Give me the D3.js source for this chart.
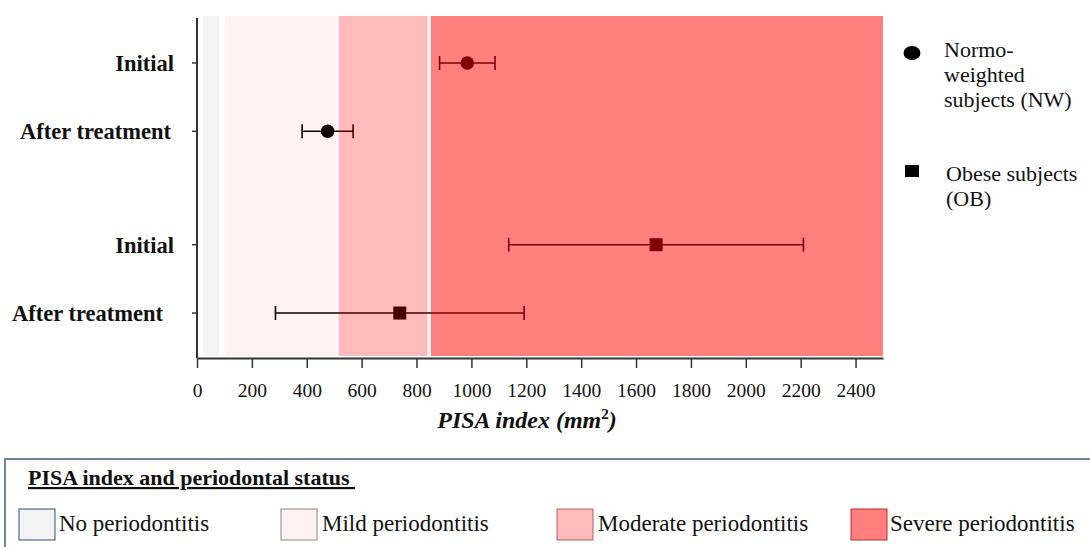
<!DOCTYPE html>
<html>
<head>
<meta charset="utf-8">
<script src="https://cdn.jsdelivr.net/npm/d3@7"></script>
<style>
  body { margin: 0; background: #fff; }
  svg { display: block; }
</style>
</head>
<body>
<svg id="chart" width="1090" height="547" font-family="'Liberation Serif', serif"></svg>
<script>
// groups and rows
const groups = ['NW', 'OB'];
const rowLabels = ['Initial', 'After treatment'];

// PISA index (mm2), mean and error half-width per group
const nwMean = [985, 476];
const nwErr = [101, 93];
const obMean = [1673, 739];
const obErr = [537, 453];

// periodontal status bands
const bandNames = ['No periodontitis', 'Mild periodontitis', 'Moderate periodontitis', 'Severe periodontitis'];
const bandLo = [21, 101, 516, 852];
const bandHi = [80, 509, 840, 2500];

const xTicks = [0, 200, 400, 600, 800, 1000, 1200, 1400, 1600, 1800, 2000, 2200, 2400];

// band tint: drawn above the marks, like the original figure
const bandFill = ['#000', '#ff0000', '#ff0000', '#ff0000'];
const bandOpacity = [0.047, 0.05, 0.265, 0.5];
const swatchStroke = ['#4f6c94', '#a59b98', '#b88888', '#b85a5a'];

const FONT = "'Liberation Serif', serif";
const svg = d3.select('#chart');

const plotTop = 16, plotBottom = 356, axisY = 358;
const x = d3.scaleLinear().domain([0, 2500]).range([197, 883]);

const yGroup = d3.scaleBand().domain(groups).range([18, 358])
    .paddingInner(0.229).paddingOuter(0.05);
const yRow = d3.scalePoint().domain(rowLabels).range([0, yGroup.bandwidth()]).padding(0.525);
const yPos = (g, r) => yGroup(g) + yRow(r);

const means = [nwMean, obMean];
const errs = [nwErr, obErr];
const points = groups.flatMap((g, gi) => rowLabels.map((r, ri) => ({
    g, r, mean: means[gi][ri], err: errs[gi][ri]
})));

// marks
const marks = svg.append('g').attr('class', 'marks');

marks.selectAll('line.err')
    .data(points).enter().append('line')
    .attr('class', 'err')
    .attr('x1', d => x(d.mean - d.err))
    .attr('x2', d => x(d.mean + d.err))
    .attr('y1', d => yPos(d.g, d.r))
    .attr('y2', d => yPos(d.g, d.r))
    .attr('stroke', '#000')
    .attr('stroke-width', 1.6);

['lo', 'hi'].forEach(side => {
    marks.selectAll('line.cap-' + side)
        .data(points).enter().append('line')
        .attr('class', 'cap-' + side)
        .attr('x1', d => x(side === 'lo' ? d.mean - d.err : d.mean + d.err))
        .attr('x2', d => x(side === 'lo' ? d.mean - d.err : d.mean + d.err))
        .attr('y1', d => yPos(d.g, d.r) - 7)
        .attr('y2', d => yPos(d.g, d.r) + 7)
        .attr('stroke', '#000')
        .attr('stroke-width', 1.6);
});

marks.selectAll('circle.nw')
    .data(points.filter(d => d.g === 'NW')).enter().append('circle')
    .attr('class', 'nw')
    .attr('cx', d => x(d.mean))
    .attr('cy', d => yPos(d.g, d.r))
    .attr('r', 6.8)
    .attr('fill', '#000');

marks.selectAll('rect.ob')
    .data(points.filter(d => d.g === 'OB')).enter().append('rect')
    .attr('class', 'ob')
    .attr('x', d => x(d.mean) - 6.5)
    .attr('y', d => yPos(d.g, d.r) - 6.5)
    .attr('width', 13)
    .attr('height', 13)
    .attr('fill', '#000');

// bands on top
svg.append('g').attr('class', 'bands')
    .selectAll('rect')
    .data(bandNames).enter().append('rect')
    .attr('x', (d, i) => x(bandLo[i]))
    .attr('width', (d, i) => x(bandHi[i]) - x(bandLo[i]))
    .attr('y', plotTop)
    .attr('height', plotBottom - plotTop)
    .attr('fill', (d, i) => bandFill[i])
    .attr('fill-opacity', (d, i) => bandOpacity[i]);

// x axis
const xAxis = svg.append('g')
    .attr('transform', `translate(0,${axisY})`)
    .call(d3.axisBottom(x).tickValues(xTicks).tickFormat(d3.format('d')).tickSize(10).tickSizeOuter(0))
    .attr('font-family', FONT);
xAxis.select('.domain').attr('stroke', '#333').attr('stroke-width', 2);
xAxis.selectAll('.tick line').attr('stroke', '#333').attr('stroke-width', 1.5);
xAxis.selectAll('.tick text')
    .attr('y', 25)
    .attr('font-size', 19.5)
    .attr('font-family', FONT)
    .attr('fill', '#111');

svg.append('text')
    .attr('x', 527)
    .attr('y', 428)
    .attr('text-anchor', 'middle')
    .attr('font-family', FONT)
    .attr('font-size', 24)
    .attr('font-weight', 'bold')
    .attr('font-style', 'italic')
    .attr('fill', '#111')
    .text('PISA index (mm')
    .call(t => t.append('tspan').attr('font-size', 15).attr('dy', -9).attr('font-style', 'normal').text('2'))
    .call(t => t.append('tspan').attr('dy', 9).text(')'));

// y axis
svg.append('line')
    .attr('x1', 197).attr('x2', 197)
    .attr('y1', 18).attr('y2', axisY)
    .attr('stroke', '#333').attr('stroke-width', 2);

svg.append('g').selectAll('line')
    .data(points).enter().append('line')
    .attr('x1', 192).attr('x2', 197)
    .attr('y1', d => yPos(d.g, d.r))
    .attr('y2', d => yPos(d.g, d.r))
    .attr('stroke', '#333').attr('stroke-width', 1.5);

const labelRight = { NW: [174, 171], OB: [174, 163] };
svg.append('g').selectAll('text')
    .data(points).enter().append('text')
    .attr('x', d => labelRight[d.g][rowLabels.indexOf(d.r)])
    .attr('y', d => yPos(d.g, d.r))
    .attr('dy', '0.35em')
    .attr('text-anchor', 'end')
    .attr('font-family', FONT)
    .attr('font-size', 22.5)
    .attr('font-weight', 'bold')
    .attr('fill', '#111')
    .text(d => d.r);

// legend: subjects
const legSym = svg.append('g');
legSym.append('ellipse')
    .attr('cx', 912).attr('cy', 53).attr('rx', 8.5).attr('ry', 7)
    .attr('fill', '#000');
legSym.append('rect')
    .attr('x', 905).attr('y', 165).attr('width', 14).attr('height', 12)
    .attr('fill', '#000');
const nwLines = ['Normo-', 'weighted', 'subjects (NW)'];
const obLines = ['Obese subjects', '(OB)'];
legSym.append('text').attr('x', 944).attr('y', 57)
    .attr('font-family', FONT).attr('font-size', 22).attr('fill', '#111')
    .selectAll('tspan').data(nwLines).enter().append('tspan')
    .attr('x', 944).attr('dy', (d, i) => i ? 25 : 0).text(d => d);
legSym.append('text').attr('x', 946).attr('y', 181)
    .attr('font-family', FONT).attr('font-size', 22).attr('fill', '#111')
    .selectAll('tspan').data(obLines).enter().append('tspan')
    .attr('x', 946).attr('dy', (d, i) => i ? 25 : 0).text(d => d);

// legend: periodontal status box
const legBox = svg.append('g');
legBox.append('rect')
    .attr('x', 5).attr('y', 459).attr('width', 1100).attr('height', 120)
    .attr('fill', 'none').attr('stroke', '#3f5d88').attr('stroke-width', 1.5);
legBox.append('text')
    .attr('x', 28).attr('y', 485)
    .attr('font-family', FONT)
    .attr('font-size', 22).attr('font-weight', 'bold').attr('fill', '#111')
    .attr('text-decoration', 'underline')
    .text('PISA index and periodontal status\u00a0');

const swatchX = [19, 281, 557, 851];
const textX = [59, 322, 598, 890];
const items = legBox.selectAll('g.item')
    .data(bandNames).enter().append('g').attr('class', 'item');
items.append('rect')
    .attr('x', (d, i) => swatchX[i]).attr('y', 509)
    .attr('width', 36).attr('height', 31)
    .attr('fill', '#fff')
    .attr('stroke', (d, i) => swatchStroke[i]).attr('stroke-width', 1.2);
items.append('rect')
    .attr('x', (d, i) => swatchX[i]).attr('y', 509)
    .attr('width', 36).attr('height', 31)
    .attr('fill', (d, i) => bandFill[i])
    .attr('fill-opacity', (d, i) => bandOpacity[i]);
items.append('text')
    .attr('x', (d, i) => textX[i]).attr('y', 531)
    .attr('font-family', FONT)
    .attr('font-size', 23).attr('fill', '#111')
    .text(d => d);
</script>
</body>
</html>
